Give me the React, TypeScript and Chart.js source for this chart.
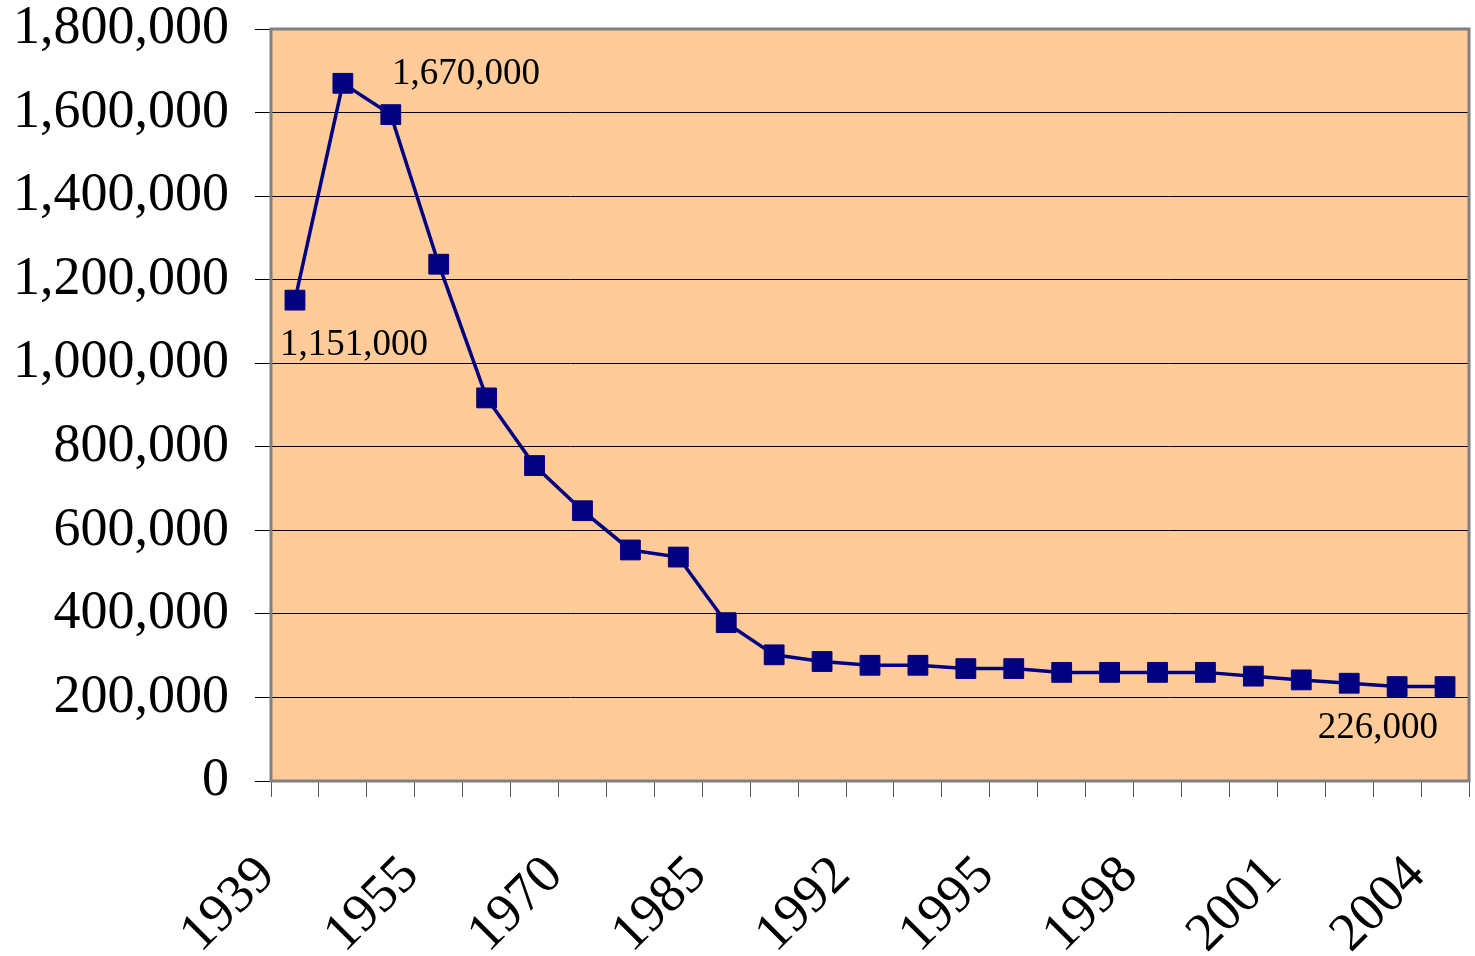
import { useEffect, useRef } from "react";
import { Chart, registerables } from "chart.js";

Chart.register(...registerables);

const years = [
  "1939", "1945", "1950", "1955", "1960", "1965", "1970", "1975", "1980",
  "1985", "1988", "1990", "1992", "1993", "1994", "1995", "1996", "1997",
  "1998", "1999", "2000", "2001", "2002", "2003", "2004",
];
const values = [
  1151000, 1670000, 1595000, 1237000, 917000, 755000, 647000, 553000, 536000,
  379000, 302000, 286000, 277000, 277000, 269000, 269000, 260000, 260000,
  260000, 260000, 251000, 242000, 234000, 226000, 226000,
];
const labeledIndices = [0, 1, 24];
const yMin = 0;
const yMax = 1800000;
const yStep = 200000;

const SERIF = "'Liberation Serif', 'Times New Roman', serif";

const fmt = (v: number) => Number(v).toLocaleString("en-US");

const decorPlugin = {
  id: "decor",
  beforeDraw(chart: any) {
    const { ctx, chartArea } = chart;
    ctx.save();
    ctx.fillStyle = "#FFCC99";
    ctx.fillRect(chartArea.left, chartArea.top, chartArea.right - chartArea.left, chartArea.bottom - chartArea.top);
    ctx.restore();
  },
  beforeDatasetsDraw(chart: any) {
    const { ctx, chartArea } = chart;
    ctx.save();
    ctx.strokeStyle = "#808080";
    ctx.lineWidth = 3;
    ctx.strokeRect(chartArea.left, chartArea.top, chartArea.right - chartArea.left, chartArea.bottom - chartArea.top);
    ctx.restore();
  },
  afterDatasetsDraw(chart: any) {
    const { ctx } = chart;
    const meta = chart.getDatasetMeta(0);
    ctx.save();
    ctx.fillStyle = "#000";
    ctx.font = `37px ${SERIF}`;
    ctx.textBaseline = "middle";
    labeledIndices.forEach((i) => {
      const pt = meta.data[i];
      const text = fmt(values[i]);
      if (i === 0) {
        ctx.textAlign = "left";
        ctx.fillText(text, pt.x - 15, pt.y + 45);
      } else if (i === 1) {
        ctx.textAlign = "left";
        ctx.fillText(text, pt.x + 49, pt.y - 9);
      } else {
        ctx.textAlign = "right";
        ctx.fillText(text, pt.x - 7, pt.y + 42);
      }
    });
    ctx.restore();
  },
};

export default function App() {
  const ref = useRef<HTMLCanvasElement>(null);
  useEffect(() => {
    document.body.style.margin = "0";
    document.body.style.overflow = "hidden";
    const chart = new Chart(ref.current as HTMLCanvasElement, {
      type: "line",
      data: {
        labels: years,
        datasets: [
          {
            data: values,
            borderColor: "#000080",
            backgroundColor: "#000080",
            borderWidth: 3.5,
            pointStyle: "rect",
            pointRadius: 14,
            pointHoverRadius: 14,
            pointBackgroundColor: "#000080",
            pointBorderColor: "#000080",
            pointBorderWidth: 1,
            tension: 0,
          },
        ],
      },
      options: {
        responsive: false,
        animation: false,
        layout: { autoPadding: false, padding: { top: 29, right: 6, left: 0, bottom: 0 } },
        plugins: { legend: { display: false }, tooltip: { enabled: false } },
        scales: {
          x: {
            offset: true,
            grid: {
              offset: true,
              drawOnChartArea: false,
              drawTicks: true,
              tickLength: 16,
              color: "#555",
              lineWidth: 1,
            },
            border: { display: false },
            ticks: {
              autoSkip: false,
              maxRotation: 45,
              minRotation: 45,
              padding: 47,
              labelOffset: -28,
              color: "#000",
              font: { family: SERIF, size: 54 },
              callback: (_v: any, i: number) => (i % 3 === 0 ? years[i] : ""),
            },
            afterFit: (s: any) => {
              s.height = 175;
              s.paddingLeft = 0;
              s.paddingRight = 0;
            },
          },
          y: {
            min: yMin,
            max: yMax,
            grid: { color: "#000", lineWidth: 1, tickLength: 16, drawTicks: true },
            border: { display: false },
            ticks: {
              stepSize: yStep,
              padding: 26,
              color: "#000",
              font: { family: SERIF, size: 54 },
              callback: (v: any) => fmt(v),
            },
            afterFit: (s: any) => {
              s.width = 271;
              s.paddingTop = 0;
              s.paddingBottom = 0;
            },
          },
        },
      },
      plugins: [decorPlugin],
    });
    return () => chart.destroy();
  }, []);
  return (
    <div style={{ position: "absolute", left: 0, top: 0, width: 1475, height: 956, overflow: "hidden" }}>
      <canvas ref={ref} width={1475} height={956} style={{ display: "block" }} />
    </div>
  );
}
